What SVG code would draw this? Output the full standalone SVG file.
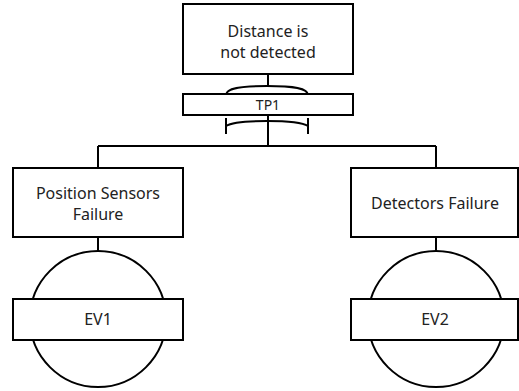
<svg xmlns="http://www.w3.org/2000/svg" width="519" height="391" viewBox="0 0 519 391">
<style>
.box{fill:#fff;stroke:#000;stroke-width:2}
.ln{fill:none;stroke:#000;stroke-width:2}
.t{font-family:"Noto Sans","Open Sans",sans-serif;font-size:16px;fill:#222;text-anchor:middle}
.s{font-family:"Noto Sans","Open Sans",sans-serif;font-size:14px;fill:#222;text-anchor:middle}
</style>
<rect width="519" height="391" fill="#fff"/>
<g id="connectors">
<path class="ln" d="M268,74 V86"/>
<path class="ln" d="M268,115 V146 M98,146 H436 M98,146 V168 M436,146 V168"/>
<path class="ln" d="M98,237 V251 M436,237 V251"/>
</g>
<g id="top">
<rect class="box" x="183" y="4" width="170" height="70"/>
<text class="t" x="268" y="37">Distance is</text>
<text class="t" x="268" y="58">not detected</text>
</g>
<g id="TP1">
<path class="ln" d="M226,95 C226,88 240,86 267,86 C294,86 308,88 308,95"/>
<rect class="box" x="183" y="94" width="170" height="21"/>
<text class="s" x="268" y="110">TP1</text>
<path class="ln" d="M226,118 V134 M308,118 V134 M226,126 C232,122 250,121 267,121 C284,121 302,122 308,126"/>
</g>
<g id="pos">
<rect class="box" x="13" y="168" width="170" height="69"/>
<text class="t" x="98" y="199">Position Sensors</text>
<text class="t" x="98" y="220">Failure</text>
</g>
<g id="det">
<rect class="box" x="351" y="168" width="167" height="69"/>
<text class="t" x="435" y="209">Detectors Failure</text>
</g>
<g id="EV1">
<circle class="box" cx="98" cy="319" r="68"/>
<rect class="box" x="13" y="299" width="170" height="41"/>
<text class="t" x="98" y="325">EV1</text>
</g>
<g id="EV2">
<circle class="box" cx="436" cy="319" r="68"/>
<rect class="box" x="351" y="299" width="167" height="41"/>
<text class="t" x="435" y="325">EV2</text>
</g>
</svg>
